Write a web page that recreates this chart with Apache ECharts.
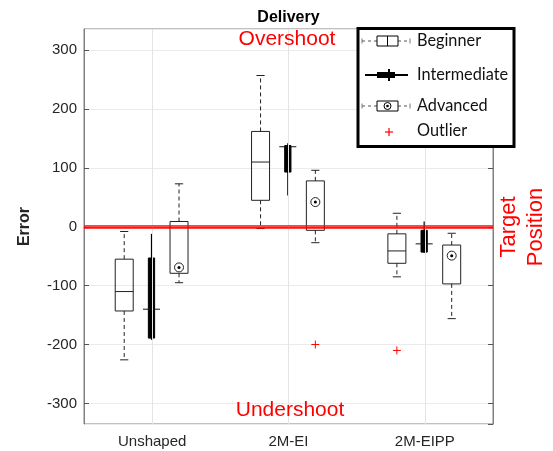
<!DOCTYPE html>
<html>
<head>
<meta charset="utf-8">
<script src="https://cdn.jsdelivr.net/npm/echarts@6/dist/echarts.min.js"></script>
<style>
html,body{margin:0;padding:0;background:#fff;}
#chart{width:553px;height:451px;}
</style>
</head>
<body>
<div id="chart"></div>
<script>
// ---- data ----
const categories = ['Unshaped', '2M-EI', '2M-EIPP'];
// each row: [min, q1, median, q3, max]
const beginner = [
  [-226, -143, -110, -55, -8],
  [-3, 45, 110, 162, 257],
  [-85, -62, -41, -12, 23]
];
const intermediate = [
  [-192, -189, -140, -53, -12],
  [53, 93, 136, 138, 142],
  [-44, -43, -29, -6, 9]
];
const advanced = [
  [-95, -79, -69, 9, 73],
  [-27, -6, 42, 78, 96],
  [-156, -97, -49, -31, -11]
];
// [categoryIndex, value]
const beginnerOutliers = [[2, -210]];
const advancedOutliers = [[1, -200]];
const yTickValues = [-300, -200, -100, 0, 100, 200, 300];

// ---- drawing ----
const LINE = '#222';
const FONT = 'Liberation Sans, Arial, sans-serif';

function toRows(arr) {
  return arr.map((r, i) => [i].concat(r));
}

function boxRender(kind, offsetRatio) {
  return function (params, api) {
    const xi = api.value(0);
    const band = api.size([1, 0])[0];
    const cx = api.coord([xi, 0])[0] + band * offsetRatio;
    const y = (k) => api.coord([xi, api.value(k)])[1];
    const yMin = y(1), yQ1 = y(2), yMed = y(3), yQ3 = y(4), yMax = y(5);
    const children = [];
    if (kind === 'intermediate') {
      const bw = band * 0.046, mw = band * 0.125;
      children.push({type: 'line', shape: {x1: cx, y1: yMax, x2: cx, y2: yMin}, style: {stroke: '#000', lineWidth: 1.2}});
      children.push({type: 'rect', shape: {x: cx - bw / 2, y: yQ3, width: bw, height: yQ1 - yQ3}, style: {fill: '#000', stroke: '#000', lineWidth: 1}});
      children.push({type: 'line', shape: {x1: cx - mw / 2, y1: yMed, x2: cx + mw / 2, y2: yMed}, style: {stroke: '#111', lineWidth: 1}});
    } else {
      const bw = band * 0.132, cw = band * 0.06;
      const dash = {stroke: LINE, lineWidth: 1, lineDash: [4, 3]};
      children.push({type: 'line', shape: {x1: cx, y1: yQ3, x2: cx, y2: yMax}, style: dash});
      children.push({type: 'line', shape: {x1: cx, y1: yQ1, x2: cx, y2: yMin}, style: dash});
      children.push({type: 'line', shape: {x1: cx - cw / 2, y1: yMax, x2: cx + cw / 2, y2: yMax}, style: {stroke: LINE, lineWidth: 1}});
      children.push({type: 'line', shape: {x1: cx - cw / 2, y1: yMin, x2: cx + cw / 2, y2: yMin}, style: {stroke: LINE, lineWidth: 1}});
      children.push({type: 'rect', shape: {x: cx - bw / 2, y: yQ3, width: bw, height: yQ1 - yQ3}, style: {fill: 'none', stroke: LINE, lineWidth: 1}});
      if (kind === 'beginner') {
        children.push({type: 'line', shape: {x1: cx - bw / 2, y1: yMed, x2: cx + bw / 2, y2: yMed}, style: {stroke: LINE, lineWidth: 1}});
      } else {
        children.push({type: 'circle', shape: {cx: cx, cy: yMed, r: 4.5}, style: {fill: 'none', stroke: LINE, lineWidth: 1}});
        children.push({type: 'circle', shape: {cx: cx, cy: yMed, r: 1.5}, style: {fill: '#000'}});
      }
    }
    return {type: 'group', children: children};
  };
}

function outlierRender(offsetRatio) {
  return function (params, api) {
    const xi = api.value(0);
    const band = api.size([1, 0])[0];
    const p = api.coord([xi, api.value(1)]);
    const cx = p[0] + band * offsetRatio, cy = p[1], h = 4;
    return {type: 'group', children: [
      {type: 'line', shape: {x1: cx - h, y1: cy, x2: cx + h, y2: cy}, style: {stroke: '#ff0000', lineWidth: 1}},
      {type: 'line', shape: {x1: cx, y1: cy - h, x2: cx, y2: cy + h}, style: {stroke: '#ff0000', lineWidth: 1}}
    ]};
  };
}

const chart = echarts.init(document.getElementById('chart'), null, {renderer: 'canvas'});

const legendX = 358, legendY = 28.5;
function legendIcon(kind, yc) {
  const els = [];
  const bx = 377, bw = 21, bh = 10;
  if (kind === 'intermediate') {
    els.push({type: 'line', shape: {x1: 365, y1: yc, x2: 408, y2: yc}, style: {stroke: '#000', lineWidth: 2}});
    els.push({type: 'rect', shape: {x: 377, y: yc - 3, width: 18, height: 6}, style: {fill: '#000'}});
    els.push({type: 'line', shape: {x1: 389, y1: yc - 6, x2: 389, y2: yc + 6}, style: {stroke: '#000', lineWidth: 2}});
    return els;
  }
  const dash = {stroke: '#555', lineWidth: 1, lineDash: [3, 3]};
  els.push({type: 'line', shape: {x1: 362, y1: yc, x2: bx, y2: yc}, style: dash});
  els.push({type: 'line', shape: {x1: bx + bw, y1: yc, x2: 410, y2: yc}, style: dash});
  els.push({type: 'line', shape: {x1: 362, y1: yc - 2.5, x2: 362, y2: yc + 2.5}, style: {stroke: '#777', lineWidth: 1}});
  els.push({type: 'line', shape: {x1: 410, y1: yc - 2.5, x2: 410, y2: yc + 2.5}, style: {stroke: '#777', lineWidth: 1}});
  els.push({type: 'rect', shape: {x: bx, y: yc - bh / 2, width: bw, height: bh}, style: {fill: '#fff', stroke: '#000', lineWidth: 1}});
  if (kind === 'beginner') {
    els.push({type: 'line', shape: {x1: bx + bw / 2, y1: yc - bh / 2, x2: bx + bw / 2, y2: yc + bh / 2}, style: {stroke: '#000', lineWidth: 1}});
  } else {
    els.push({type: 'circle', shape: {cx: bx + bw / 2, cy: yc, r: 3.5}, style: {fill: 'none', stroke: '#000', lineWidth: 1}});
    els.push({type: 'circle', shape: {cx: bx + bw / 2, cy: yc, r: 1.3}, style: {fill: '#000'}});
  }
  return els;
}
const legendFont = '16.3px Lato, "Open Sans", sans-serif';
const legendGraphic = [
  {type: 'rect', shape: {x: legendX, y: legendY, width: 156, height: 118}, style: {fill: '#fff', stroke: '#000', lineWidth: 3}, z: 100},
  ...legendIcon('beginner', 41).map(e => Object.assign(e, {z: 101})),
  ...legendIcon('intermediate', 75).map(e => Object.assign(e, {z: 101})),
  ...legendIcon('advanced', 106).map(e => Object.assign(e, {z: 101})),
  {type: 'line', shape: {x1: 385, y1: 132, x2: 393, y2: 132}, style: {stroke: '#ff0000', lineWidth: 1.2}, z: 101},
  {type: 'line', shape: {x1: 389, y1: 128, x2: 389, y2: 136}, style: {stroke: '#ff0000', lineWidth: 1.2}, z: 101},
  {type: 'text', x: 417, y: 41, style: {text: 'Beginner', font: legendFont, fill: '#111', verticalAlign: 'middle'}, z: 101},
  {type: 'text', x: 417, y: 75, style: {text: 'Intermediate', font: legendFont, fill: '#111', verticalAlign: 'middle'}, z: 101},
  {type: 'text', x: 417, y: 106, style: {text: 'Advanced', font: legendFont, fill: '#111', verticalAlign: 'middle'}, z: 101},
  {type: 'text', x: 417, y: 131, style: {text: 'Outlier', font: legendFont, fill: '#111', verticalAlign: 'middle'}, z: 101}
];

const option = {
  animation: false,
  backgroundColor: '#fff',
  textStyle: {fontFamily: FONT},
  grid: {left: 84, right: 60, top: 29, bottom: 27, show: true, borderColor: '#808080', borderWidth: 1, backgroundColor: 'transparent'},
  xAxis: [
    {
      type: 'category', data: categories, boundaryGap: true, position: 'bottom',
      axisLine: {lineStyle: {color: '#808080'}},
      axisTick: {inside: true, alignWithLabel: true, length: 5, lineStyle: {color: '#555'}},
      axisLabel: {color: '#262626', fontSize: 15, fontFamily: FONT, margin: 10},
      splitLine: {show: false}
    },
    {
      type: 'category', data: categories, boundaryGap: true, position: 'top',
      axisLine: {lineStyle: {color: '#808080'}},
      axisTick: {inside: true, alignWithLabel: true, length: 5, lineStyle: {color: '#555'}},
      axisLabel: {show: false}, splitLine: {show: false}
    }
  ],
  yAxis: [
    {
      type: 'value', min: -335, max: 336, splitNumber: 7,
      name: 'Error', nameLocation: 'middle', nameGap: 51,
      nameTextStyle: {fontWeight: 'bold', fontSize: 16, color: '#262626', fontFamily: FONT},
      axisLine: {show: true, lineStyle: {color: '#808080'}},
      axisTick: {show: true, inside: true, length: 5, lineStyle: {color: '#555'}},
      axisLabel: {color: '#262626', fontSize: 15, fontFamily: FONT, margin: 7, showMinLabel: false, showMaxLabel: false,
        formatter: v => (yTickValues.indexOf(v) >= 0 ? String(v) : '')},
      splitLine: {show: true, lineStyle: {color: '#ebebeb', width: 1}}
    },
    {
      type: 'value', min: -335, max: 336, splitNumber: 7, position: 'right',
      axisLine: {show: true, lineStyle: {color: '#808080'}},
      axisTick: {show: true, inside: true, length: 5, lineStyle: {color: '#555'}},
      axisLabel: {show: false}, splitLine: {show: false}
    }
  ],
  series: [
    {
      type: 'line', data: [], silent: true, z: 1,
      markLine: {
        silent: true, symbol: 'none', label: {show: false},
        lineStyle: {color: '#e4e4e4', width: 1, type: 'solid'},
        data: categories.map(c => ({xAxis: c}))
      }
    },
    {
      type: 'line', data: [], silent: true, z: 5,
      markLine: {
        silent: true, symbol: 'none', label: {show: false},
        lineStyle: {color: 'rgba(255,0,0,0.72)', width: 4, type: 'solid'},
        data: [{yAxis: 0}]
      }
    },
    {name: 'Beginner', type: 'custom', renderItem: boxRender('beginner', -0.205), data: toRows(beginner),
      encode: {x: 0, y: [1, 2, 3, 4, 5]}, z: 3},
    {name: 'Intermediate', type: 'custom', renderItem: boxRender('intermediate', -0.005), data: toRows(intermediate),
      encode: {x: 0, y: [1, 2, 3, 4, 5]}, z: 3},
    {name: 'Advanced', type: 'custom', renderItem: boxRender('advanced', 0.197), data: toRows(advanced),
      encode: {x: 0, y: [1, 2, 3, 4, 5]}, z: 3},
    {name: 'Beginner outliers', type: 'custom', renderItem: outlierRender(-0.205), data: beginnerOutliers,
      encode: {x: 0, y: 1}, z: 3},
    {name: 'Advanced outliers', type: 'custom', renderItem: outlierRender(0.197), data: advancedOutliers,
      encode: {x: 0, y: 1}, z: 3}
  ],
  graphic: [
    {type: 'text', x: 288.5, y: 17.5, style: {text: 'Delivery', font: 'bold 16px ' + FONT, fill: '#000', align: 'center', verticalAlign: 'middle'}},
    {type: 'text', x: 287, y: 39, style: {text: 'Overshoot', font: '21px ' + FONT, fill: '#ff0000', align: 'center', verticalAlign: 'middle'}, z: 50},
    {type: 'text', x: 290, y: 410, style: {text: 'Undershoot', font: '21px ' + FONT, fill: '#ff0000', align: 'center', verticalAlign: 'middle'}, z: 50},
    {type: 'text', x: 522, y: 227, rotation: Math.PI / 2,
      style: {text: 'Target\nPosition', font: '22px ' + FONT, fill: '#ff0000', align: 'center', verticalAlign: 'middle', lineHeight: 27}},
    ...legendGraphic
  ]
};
chart.setOption(option);
</script>
</body>
</html>
